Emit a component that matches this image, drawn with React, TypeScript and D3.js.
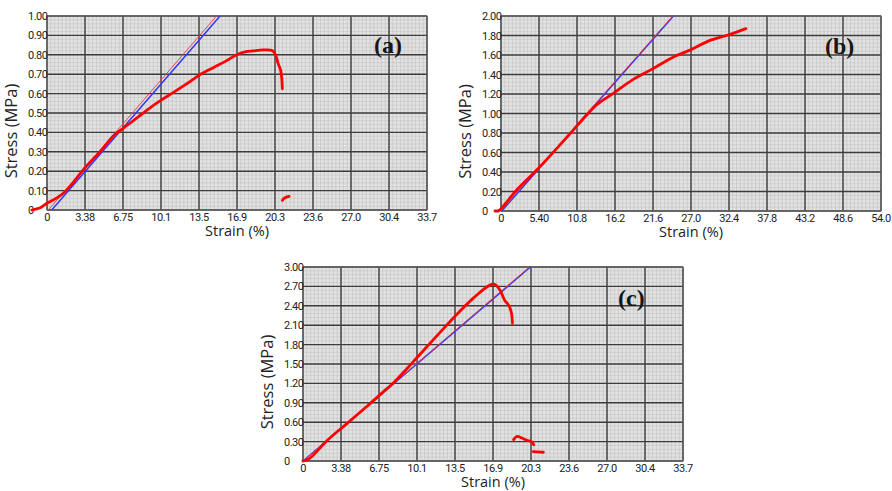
import React from 'react'
import * as d3 from 'd3'

// tick labels
const strainTicksA = ['0', '3.38', '6.75', '10.1', '13.5', '16.9', '20.3', '23.6', '27.0', '30.4', '33.7']
const strainTicksB = ['0', '5.40', '10.8', '16.2', '21.6', '27.0', '32.4', '37.8', '43.2', '48.6', '54.0']
const stressTicksA = ['0', '0.10', '0.20', '0.30', '0.40', '0.50', '0.60', '0.70', '0.80', '0.90', '1.00']
const stressTicksB = ['0', '0.20', '0.40', '0.60', '0.80', '1.00', '1.20', '1.40', '1.60', '1.80', '2.00']
const stressTicksC = ['0', '0.30', '0.60', '0.90', '1.20', '1.50', '1.80', '2.10', '2.40', '2.70', '3.00']

// measured curves [strain %, stress MPa]
const curveA = [
  [-1.35, 0], [-0.6, 0.012], [0, 0.035], [0.8, 0.06], [1.45, 0.086], [2.3, 0.14], [3.2, 0.206],
  [4.7, 0.3], [6.04, 0.39], [6.75, 0.42], [7.66, 0.46], [9.0, 0.52], [10.1, 0.565], [11.2, 0.605],
  [12.4, 0.65], [13.6, 0.698], [14.8, 0.735], [15.96, 0.77], [16.9, 0.802], [17.6, 0.815],
  [18.3, 0.82], [19.2, 0.825], [20.0, 0.822], [20.3, 0.8], [20.5, 0.76], [20.75, 0.72],
  [20.85, 0.68], [20.9, 0.625]
]
const fragA = [[20.9, 0.05], [21.1, 0.062], [21.5, 0.07]]
const modulusBlueA = [[0.42, 0], [15.37, 1.0]]
const modulusRedA = [[0.12, 0], [15.05, 1.0]]

const curveB = [
  [-0.85, 0], [-0.3, 0.004], [0.1, 0.03], [1.0, 0.11], [2.23, 0.215], [5.07, 0.42], [7.9, 0.64],
  [10.27, 0.83], [12.17, 0.985], [13.6, 1.09], [15.95, 1.207], [18.8, 1.35], [21.6, 1.46],
  [24.5, 1.58], [26.85, 1.65], [29.7, 1.75], [32.5, 1.81], [34.8, 1.87]
]
const modulusBlueB = [[0.1, 0], [24.5, 2.0]]
const modulusRedB = [[-0.05, 0], [24.4, 2.0]]

const curveC = [
  [0, 0], [0.33, 0.015], [0.8, 0.07], [2.1, 0.31], [3.87, 0.575], [5.97, 0.89], [7.2, 1.08],
  [8.04, 1.21], [9.82, 1.54], [11.6, 1.88], [13.4, 2.22], [15.2, 2.53], [16.6, 2.72],
  [17.05, 2.73], [17.5, 2.64], [17.9, 2.49], [18.3, 2.4], [18.5, 2.3], [18.6, 2.13]
]
const fragC1 = [[18.7, 0.33], [19.0, 0.38], [19.45, 0.355], [19.9, 0.32], [20.3, 0.3], [20.5, 0.25]]
const fragC2 = [[20.45, 0.145], [20.9, 0.14], [21.35, 0.135]]
const modulusBlueC = [[0, 0], [20.2, 3.0]]
const modulusRedC = [[0, 0], [20.1, 3.0]]

type Pt = number[]

interface PanelProps {
  left: number
  top: number
  width: number
  height: number
  xMax: number
  yMax: number
  xTicks: string[]
  yTicks: string[]
  curves: Pt[][]
  blue: Pt[]
  red: Pt[]
  tag: string
  tagX: number
  tagY: number
}

const Panel = (p: PanelProps) => {
  const x = d3.scaleLinear().domain([0, p.xMax]).range([p.left, p.left + p.width])
  const y = d3.scaleLinear().domain([0, p.yMax]).range([p.top + p.height, p.top])
  const line = d3.line<Pt>().x(d => x(d[0])).y(d => y(d[1])).curve(d3.curveCatmullRom.alpha(0.5))
  const straight = d3.line<Pt>().x(d => x(d[0])).y(d => y(d[1]))

  const minorX = d3.range(0, 101).map(i => x((i * p.xMax) / 100))
  const minorY = d3.range(0, 51).map(i => y((i * p.yMax) / 50))
  const majorX = d3.range(0, 11).map(i => x((i * p.xMax) / 10))
  const majorY = d3.range(0, 11).map(i => y((i * p.yMax) / 10))

  const tickFont = 'Roboto, sans-serif'
  return (
    <g>
      <rect x={p.left} y={p.top} width={p.width} height={p.height} fill="#e2e2e2" />
      {minorX.map((v, i) => (
        <line key={'mx' + i} x1={v} x2={v} y1={p.top} y2={p.top + p.height} stroke="#bdbdbd" strokeWidth={0.6} />
      ))}
      {minorY.map((v, i) => (
        <line key={'my' + i} x1={p.left} x2={p.left + p.width} y1={v} y2={v} stroke="#c4c4c4" strokeWidth={0.6} />
      ))}
      {majorX.map((v, i) => (
        <line key={'Mx' + i} x1={v} x2={v} y1={p.top} y2={p.top + p.height} stroke="#3c3c3c" strokeWidth={1.4} />
      ))}
      {majorY.map((v, i) => (
        <line key={'My' + i} x1={p.left} x2={p.left + p.width} y1={v} y2={v} stroke="#3c3c3c" strokeWidth={1.4} />
      ))}
      <rect x={p.left} y={p.top} width={p.width} height={p.height} fill="none" stroke="#666" strokeWidth={1} />

      {p.xTicks.map((t, i) => (
        <text key={'xt' + i} x={majorX[i]} y={p.top + p.height + 10.5} textAnchor="middle"
          fontFamily={tickFont} fontSize={11} letterSpacing={-0.5} fill="#222">{t}</text>
      ))}
      {p.yTicks.map((t, i) => (
        <text key={'yt' + i} x={p.left - 19} y={majorY[i] + 4} textAnchor="start"
          fontFamily={tickFont} fontSize={11} letterSpacing={-0.5} fill="#222">{t}</text>
      ))}

      <text x={p.left + p.width / 2} y={p.top + p.height + 26} textAnchor="middle"
        fontFamily="'Open Sans', sans-serif" fontSize={14.5} fill="#222">Strain (%)</text>
      <text transform={`translate(${p.left - 30},${p.top + p.height / 2 + 18}) rotate(-90)`} textAnchor="middle"
        fontFamily="'Open Sans', sans-serif" fontSize={16.5} fill="#222">Stress (MPa)</text>

      <path d={straight(p.blue) ?? ''} fill="none" stroke="#3535ff" strokeWidth={1.5} />
      <path d={straight(p.red) ?? ''} fill="none" stroke="#e83a3a" strokeWidth={0.9} />
      {p.curves.map((c, i) => (
        <path key={'c' + i} d={line(c) ?? ''} fill="none" stroke="#ff0000" strokeWidth={2.8}
          strokeLinecap="round" strokeLinejoin="round" />
      ))}

      <text x={p.tagX} y={p.tagY} fontFamily="'Liberation Serif', 'Times New Roman', serif" fontWeight="bold"
        fontSize={24} fill="#161616">{p.tag}</text>
    </g>
  )
}

export default function App() {
  return (
    <svg width={892} height={491} style={{ position: 'absolute', left: 0, top: 0, background: '#fff' }}>
      <Panel left={47} top={16} width={380} height={194} xMax={33.75} yMax={1.0}
        xTicks={strainTicksA} yTicks={stressTicksA} curves={[curveA, fragA]}
        blue={modulusBlueA} red={modulusRedA} tag="(a)" tagX={374} tagY={53} />
      <Panel left={501} top={16} width={380} height={195} xMax={54} yMax={2.0}
        xTicks={strainTicksB} yTicks={stressTicksB} curves={[curveB]}
        blue={modulusBlueB} red={modulusRedB} tag="(b)" tagX={825} tagY={54} />
      <Panel left={303} top={267} width={380} height={194} xMax={33.75} yMax={3.0}
        xTicks={strainTicksA} yTicks={stressTicksC} curves={[curveC, fragC1, fragC2]}
        blue={modulusBlueC} red={modulusRedC} tag="(c)" tagX={618} tagY={306} />
    </svg>
  )
}
